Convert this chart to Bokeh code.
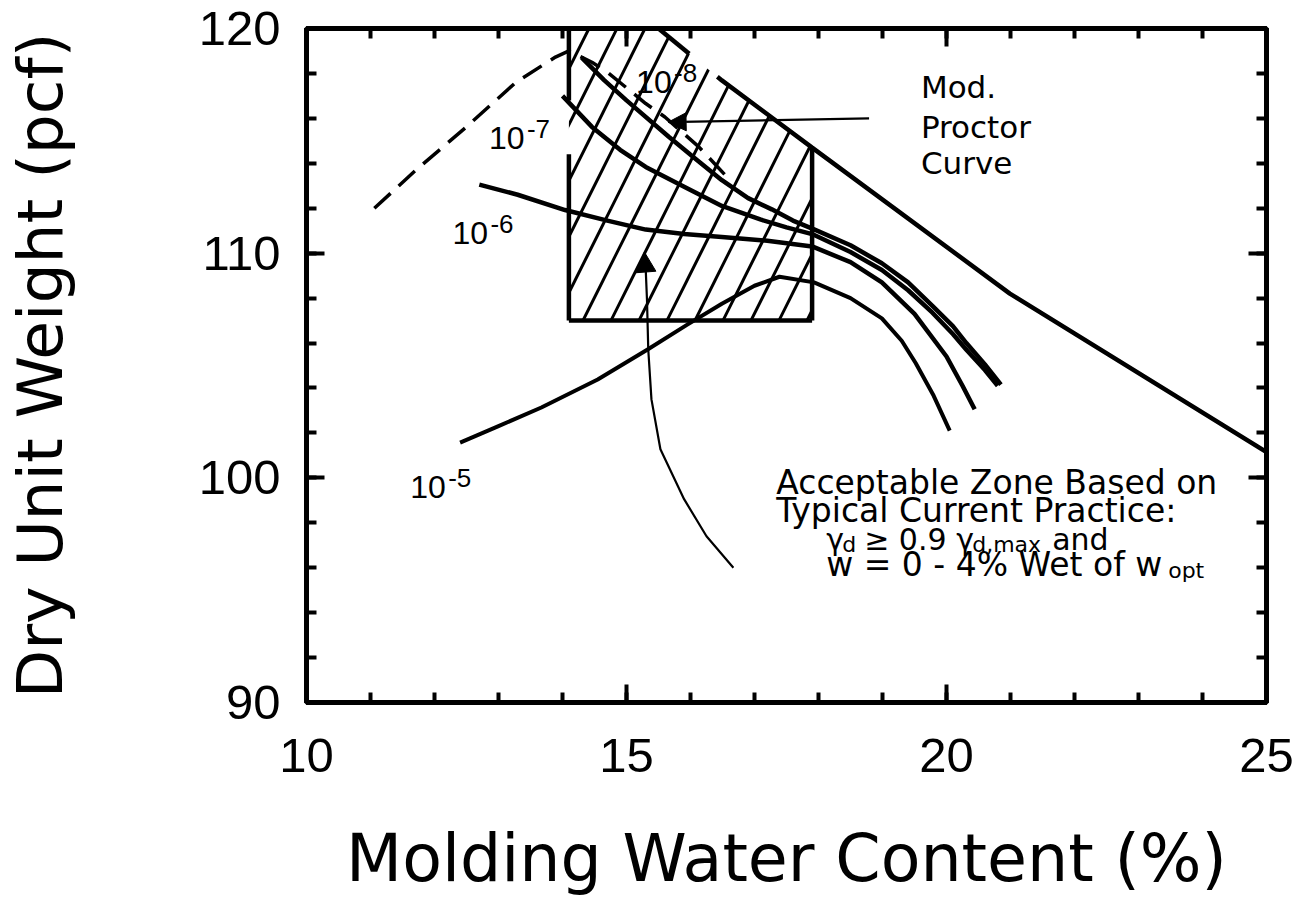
import numpy as np
from bokeh.plotting import figure
from bokeh.models import Range1d, LinearAxis, FixedTicker, Arrow, NormalHead
from bokeh.core.properties import value
from bokeh.embed import file_html
from bokeh.resources import INLINE

# ---------------- data ----------------
x_major = [10, 15, 20, 25]
x_minor = list(range(10, 26))
y_major = [90, 100, 110, 120]
y_minor = list(range(90, 121, 2))
y_top = 120.0

# acceptable zone (hatched box)
zone_w = [14.1, 17.9]
zone_gd_min = 107.0
zone_left_gap = [114.4, 116.8]

# Modified Proctor curve (dashed)
proctor_w = [11.06, 11.71, 12.49, 13.27, 13.89, 14.1, 14.46, 14.70, 15.30, 15.60, 16.13, 16.6]
proctor_g = [112.0, 113.7, 115.6, 117.6, 118.73, 119.0, 118.5, 118.06, 116.66, 116.06, 114.73, 113.3]

# straight bounding line (line of optimums)
opt_w = [15.5, 16.49, 17.9, 20.99, 25.0]
opt_g = [120.0, 117.69, 114.7, 108.2, 101.15]
opt_gap_w = [15.98, 16.42]

# hydraulic conductivity contours
k8_w = [14.3, 14.65, 15.0, 15.66, 16.1, 16.49, 16.9, 17.27, 17.6, 17.94, 18.5, 18.99, 19.4, 19.78, 20.1, 20.31, 20.6, 20.85]
k8_g = [118.7, 117.7, 116.8, 115.18, 114.15, 113.25, 112.45, 111.95, 111.45, 111.05, 110.35, 109.55, 108.7, 107.65, 106.75, 106.0, 105.05, 104.15]
k7_w = [14.0, 14.46, 14.9, 15.3, 15.9, 16.49, 17.09, 17.5, 17.9, 18.5, 18.99, 19.4, 19.78, 20.1, 20.31, 20.6, 20.8]
k7_g = [117.0, 115.62, 114.6, 113.84, 112.96, 112.1, 111.5, 111.15, 110.85, 110.05, 109.25, 108.35, 107.35, 106.4, 105.7, 104.8, 104.1]
k6_w = [12.7, 13.3, 14.04, 14.7, 15.3, 15.9, 16.49, 17.2, 17.9, 18.5, 18.99, 19.5, 20.0, 20.25, 20.44]
k6_g = [113.05, 112.6, 111.92, 111.45, 111.05, 110.85, 110.72, 110.55, 110.3, 109.6, 108.7, 107.3, 105.4, 104.1, 103.05]
k5_w = [12.4, 13.0, 13.67, 14.55, 15.33, 15.95, 16.49, 17.0, 17.39, 17.93, 18.5, 18.99, 19.3, 19.52, 19.8, 20.05]
k5_g = [101.57, 102.3, 103.13, 104.38, 105.71, 106.82, 107.75, 108.55, 108.95, 108.7, 108.0, 107.1, 106.1, 105.1, 103.65, 102.1]

# contour labels
k_label_w = [15.15, 12.85, 12.28, 11.62]
k_label_g = [117.16, 114.67, 110.46, 99.14]
k_label_base = ["10", "10", "10", "10"]
k_label_exp = ["-8", "-7", "-6", "-5"]

# pointer from the zone note into the box
note_arrow_w = [16.67, 16.25, 15.9, 15.53, 15.39, 15.34, 15.32, 15.3]
note_arrow_g = [96.0, 97.4, 99.05, 101.27, 103.49, 105.71, 107.93, 109.3]
note_arrow_tip = [15.28, 110.05]

# pointer from "Mod. Proctor Curve"
proctor_ptr_w = [18.79, 15.65]
proctor_ptr_g = [116.0, 115.83]

proctor_text = ["Mod.", "Proctor", "Curve"]
proctor_text_w = 19.6
proctor_text_g = [116.94, 115.16, 113.56]

note_lines = ["Acceptable Zone Based on", "Typical Current Practice:"]
note_w = 17.34
note_g = [99.36, 98.12, 96.83, 95.68]
note_indent_w = 18.12

x_title = "Molding Water Content (%)"
y_title = "Dry Unit Weight (pcf)"

# ---------------- figure ----------------
W, H = 1300, 898
p = figure(width=W, height=H, x_range=Range1d(10, 25), y_range=Range1d(90, 120),
           output_backend="svg", toolbar_location=None,
           min_border_left=305, min_border_right=W - 1266, min_border_top=28, min_border_bottom=H - 704,
           background_fill_color="white", border_fill_color="white")
p.grid.visible = False
p.outline_line_color = "black"
p.outline_line_width = 5


def style_axis(ax, major, minor, show_labels):
    ax.ticker = FixedTicker(ticks=major, minor_ticks=minor)
    ax.axis_line_width = 5
    ax.axis_line_color = "black"
    ax.major_tick_in = 18
    ax.major_tick_out = 0
    ax.minor_tick_in = 10
    ax.minor_tick_out = 0
    ax.major_tick_line_width = 4
    ax.minor_tick_line_width = 4
    ax.major_tick_line_color = "black"
    ax.minor_tick_line_color = "black"
    if show_labels:
        ax.major_label_text_font = "Liberation Sans"
        ax.major_label_text_font_size = "49px"
        ax.major_label_text_color = "black"
    else:
        ax.major_label_text_font_size = "0px"
        ax.major_label_overrides = {t: "" for t in major}
        ax.major_label_standoff = 0


xa = p.xaxis[0]
style_axis(xa, x_major, x_minor, True)
xa.major_label_standoff = 36
xa.axis_label = x_title
xa.axis_label_text_font = "DejaVu Sans"
xa.axis_label_text_font_size = "65px"
xa.axis_label_text_font_style = "normal"
xa.axis_label_text_color = "black"
xa.axis_label_standoff = 46
xa.axis_label_align = "center"

ya = p.yaxis[0]
style_axis(ya, y_major, y_minor, True)
ya.major_label_standoff = 26
ya.axis_label = y_title
ya.axis_label_text_font = "DejaVu Sans"
ya.axis_label_text_font_size = "63px"
ya.axis_label_text_font_style = "normal"
ya.axis_label_text_color = "black"
ya.axis_label_standoff = 119

top_ax = LinearAxis()
style_axis(top_ax, x_major, x_minor, False)
p.add_layout(top_ax, "above")
right_ax = LinearAxis()
style_axis(right_ax, y_major, y_minor, False)
p.add_layout(right_ax, "right")

# hatched acceptable zone, top bounded by the optimum line
line_top_at_right = float(np.interp(zone_w[1], opt_w, opt_g))
inner = [(w, g) for w, g in zip(opt_w, opt_g) if opt_w[0] <= w < zone_w[1]]
hatch_w = [zone_w[0], zone_w[0]] + [w for w, _ in inner] + [zone_w[1], zone_w[1]]
hatch_g = [zone_gd_min, y_top] + [g for _, g in inner] + [line_top_at_right, zone_gd_min]
p.patch(hatch_w, hatch_g, fill_color="white", fill_alpha=0, line_alpha=0,
        hatch_pattern="/", hatch_color="black", hatch_weight=3, hatch_scale=56)

# box edges
BW = 4.5
p.line([zone_w[0], zone_w[0]], [zone_gd_min, zone_left_gap[0]], line_color="black", line_width=BW)
p.line([zone_w[0], zone_w[0]], [zone_left_gap[1], y_top], line_color="black", line_width=BW)
p.line([zone_w[0], zone_w[1]], [zone_gd_min, zone_gd_min], line_color="black", line_width=BW)
p.line([zone_w[1], zone_w[1]], [zone_gd_min, line_top_at_right], line_color="black", line_width=BW)

# optimum line with a small break near the 10-8 label
seg_a_w = [w for w in opt_w if w < opt_gap_w[0]] + [opt_gap_w[0]]
seg_a_g = [g for w, g in zip(opt_w, opt_g) if w < opt_gap_w[0]] + [float(np.interp(opt_gap_w[0], opt_w, opt_g))]
seg_b_w = [opt_gap_w[1]] + [w for w in opt_w if w > opt_gap_w[1]]
seg_b_g = [float(np.interp(opt_gap_w[1], opt_w, opt_g))] + [g for w, g in zip(opt_w, opt_g) if w > opt_gap_w[1]]
p.line(seg_a_w, seg_a_g, line_color="black", line_width=4.5)
p.line(seg_b_w, seg_b_g, line_color="black", line_width=4.5)

# proctor curve, dashed
p.line(proctor_w, proctor_g, line_color="black", line_width=3.5, line_dash="22 11")

# k contours
p.line(k8_w, k8_g, line_color="black", line_width=4.5, line_join="round")
p.line(k7_w, k7_g, line_color="black", line_width=4.5, line_join="round")
p.line(k6_w, k6_g, line_color="black", line_width=4.5, line_join="round")
p.line(k5_w, k5_g, line_color="black", line_width=4, line_join="round")

TY = -10  # baseline correction in pixels

# contour labels
p.text(k_label_w, k_label_g, text=k_label_base, text_font=value("Liberation Sans"),
       text_font_size=value("32px"), text_color="black", text_baseline="alphabetic", text_align="left",
       y_offset=TY)
p.text(k_label_w, k_label_g, text=k_label_exp, text_font=value("Liberation Sans"),
       text_font_size=value("26px"), text_color="black", text_baseline="alphabetic", text_align="left",
       x_offset=38, y_offset=TY - 9)

# pointer curve from note
p.line(note_arrow_w, note_arrow_g, line_color="black", line_width=2.2)
p.add_layout(Arrow(end=NormalHead(size=20, fill_color="black", line_color="black", line_width=1),
                   x_start=note_arrow_w[-1], y_start=note_arrow_g[-1],
                   x_end=note_arrow_tip[0], y_end=note_arrow_tip[1], line_width=2.2))

# pointer from Mod. Proctor Curve
p.add_layout(Arrow(end=NormalHead(size=18, fill_color="black", line_color="black", line_width=1),
                   x_start=proctor_ptr_w[0], y_start=proctor_ptr_g[0],
                   x_end=proctor_ptr_w[1], y_end=proctor_ptr_g[1], line_width=2.2))

p.text([proctor_text_w] * 3, proctor_text_g, text=proctor_text, text_font=value("DejaVu Sans"),
       text_font_size=value("31px"), text_color="black", text_baseline="alphabetic", text_align="left",
       y_offset=TY)

# note text
FS = value("33px")
FS3 = value("30px")
FSS = value("22px")
FN = value("DejaVu Sans")
p.text([note_w] * 2, note_g[:2], text=note_lines, text_font=FN, text_font_size=FS,
       text_color="black", text_baseline="alphabetic", y_offset=TY)
# line 3: gamma_d >= 0.9 gamma_d,max and
l3_parts = ["\u03b3", "d", "\u2265 0.9", "\u03b3", "d,max", "and"]
l3_off = [0, 16, 38, 130, 146, 226]
l3_sub = [False, True, False, False, True, False]
for t, o, s in zip(l3_parts, l3_off, l3_sub):
    p.text([note_indent_w], [note_g[2]], text=[t], text_font=FN, text_font_size=FSS if s else FS3,
           text_color="black", text_baseline="alphabetic", x_offset=o, y_offset=TY + (5 if s else 0))
# line 4: w = 0 - 4% Wet of w_opt
l4_parts = ["w = 0 - 4% Wet of w", "opt"]
l4_off = [0, 342]
l4_sub = [False, True]
for t, o, s in zip(l4_parts, l4_off, l4_sub):
    p.text([note_indent_w], [note_g[3]], text=[t], text_font=FN, text_font_size=FSS if s else FS,
           text_color="black", text_baseline="alphabetic", x_offset=o, y_offset=TY + (6 if s else 0))

open("out.html", "w").write(file_html(p, INLINE))
